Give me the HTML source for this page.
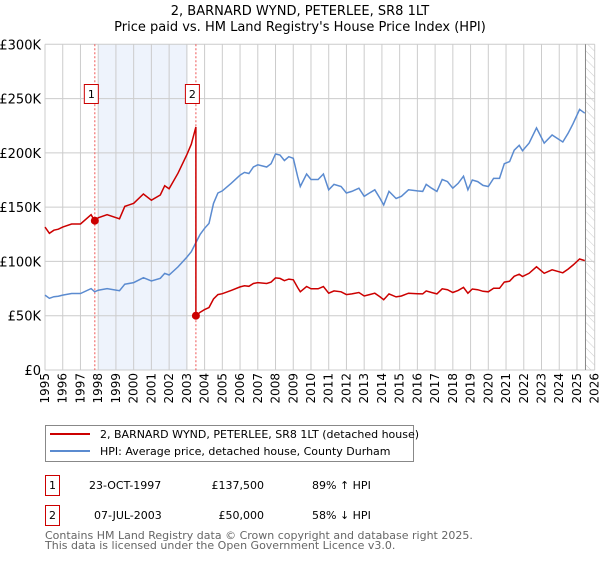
<!DOCTYPE html>
<html><head><meta charset="utf-8">
<style>
body{margin:0;background:#fff;}
svg text{font-family:"DejaVu Sans","Liberation Sans",sans-serif;}
</style></head>
<body>
<svg id="chart" width="600" height="560" viewBox="0 0 600 560" xmlns="http://www.w3.org/2000/svg">
<defs>
<pattern id="hatch" width="6" height="6" patternUnits="userSpaceOnUse" patternTransform="rotate(-45)">
<line x1="0" y1="0" x2="0" y2="6" stroke="#ccc" stroke-width="1"/>
</pattern>
</defs>
<text x="300" y="15" text-anchor="middle" font-size="13" fill="#000">2, BARNARD WYND, PETERLEE, SR8 1LT</text>
<text x="300" y="31" text-anchor="middle" font-size="13" fill="#000">Price paid vs. HM Land Registry's House Price Index (HPI)</text>
<g id="grid"></g>
<g id="plot"></g>
<g id="legend">
<rect x="45.5" y="425.5" width="368" height="36" fill="#fff" stroke="#888"/>
<line x1="50" y1="434" x2="90" y2="434" stroke="#cc0000" stroke-width="2"/>
<text x="100" y="438" font-size="11">2, BARNARD WYND, PETERLEE, SR8 1LT (detached house)</text>
<line x1="50" y1="451" x2="90" y2="451" stroke="#5b8bd0" stroke-width="2"/>
<text x="100" y="455" font-size="11">HPI: Average price, detached house, County Durham</text>
</g>
<g font-size="11">
<rect x="45.5" y="475.5" width="14" height="20" fill="#fff" stroke="#cc0000"/>
<text x="52.5" y="489" text-anchor="middle">1</text>
<text x="89" y="489">23-OCT-1997</text>
<text x="264" y="489" text-anchor="end">£137,500</text>
<text x="312" y="489">89% ↑ HPI</text>
<rect x="45.5" y="505.5" width="14" height="20" fill="#fff" stroke="#cc0000"/>
<text x="52.5" y="519" text-anchor="middle">2</text>
<text x="94" y="519">07-JUL-2003</text>
<text x="264" y="519" text-anchor="end">£50,000</text>
<text x="312" y="519">58% ↓ HPI</text>
</g>
<text x="45" y="539" font-size="11" fill="#666">Contains HM Land Registry data © Crown copyright and database right 2025.</text>
<text x="45" y="549" font-size="11" fill="#666">This data is licensed under the Open Government Licence v3.0.</text>
</svg>
<script>
const hpiYears=[1995.0,1995.25,1995.5,1995.75,1996.0,1996.5,1997.0,1997.6,1997.8,1998.0,1998.5,1999.2,1999.5,2000.0,2000.55,2001.0,2001.5,2001.75,2002.0,2002.5,2003.0,2003.25,2003.5,2003.75,2004.0,2004.25,2004.5,2004.75,2005.0,2005.5,2006.0,2006.25,2006.5,2006.75,2007.0,2007.5,2007.75,2008.0,2008.25,2008.5,2008.75,2009.0,2009.25,2009.4,2009.75,2010.0,2010.4,2010.7,2011.0,2011.3,2011.7,2012.0,2012.3,2012.7,2013.0,2013.3,2013.6,2013.9,2014.1,2014.4,2014.8,2015.1,2015.5,2016.0,2016.3,2016.5,2016.8,2017.1,2017.4,2017.7,2018.0,2018.3,2018.6,2018.85,2019.1,2019.4,2019.7,2020.0,2020.3,2020.63,2020.9,2021.2,2021.46,2021.74,2021.93,2022.3,2022.72,2023.15,2023.6,2024.2,2024.5,2024.78,2025.15,2025.44];
const hpiValues=[69,66,67.5,68,69,70.5,70.5,75,72,73.5,75,73,79,80.5,85,82,84.5,89,87.5,95,104,109,117,125,130.5,135,153.5,163,165,172,179.5,182,181,187,189,187,190,199,198,193,196.5,195,178,169,180.5,175.5,175.5,180.5,166,171,169,163,164.5,167.5,160,163,166,158,152,164.5,158,160,166,165,164.5,171,167.5,164.5,175.5,173.5,167.5,172,178.5,166,175,173.5,170,169,176.5,176.5,190,192,202.5,207,202,209,223,209,216.5,210,218,227,240,236.5];
const saleYears=[1997.81,2003.51];
const salePrices=[137500,50000];
const yTicks=[0,50000,100000,150000,200000,250000,300000];
const yTickLabels=["£0","£50K","£100K","£150K","£200K","£250K","£300K"];
const xTicks=[1995,1996,1997,1998,1999,2000,2001,2002,2003,2004,2005,2006,2007,2008,2009,2010,2011,2012,2013,2014,2015,2016,2017,2018,2019,2020,2021,2022,2023,2024,2025,2026];

const L=45,R=594.7,T=44.3,B=370;
const X=y=>L+(y-1995)/(2026-1995)*(R-L);
const Y=v=>B-v/300000*(B-T);
const NS="http://www.w3.org/2000/svg";
function mk(tag,attrs,parent){const e=document.createElementNS(NS,tag);for(const k in attrs)e.setAttribute(k,attrs[k]);parent.appendChild(e);return e;}
const grid=document.getElementById('grid'),plot=document.getElementById('plot');
function hpiAt(y){for(let i=0;i<hpiYears.length-1;i++){if(y>=hpiYears[i]&&y<=hpiYears[i+1]){const t=(y-hpiYears[i])/(hpiYears[i+1]-hpiYears[i]);return (hpiValues[i]+t*(hpiValues[i+1]-hpiValues[i]))*1000;}}return hpiValues[hpiValues.length-1]*1000;}

const sh=mk('rect',{x:X(1998.0),y:T,width:X(2003.04)-X(1998.0),height:B-T,fill:'#eef3fc'},grid);


const hx=X(2025.48);
const ht=mk('rect',{x:hx,y:T,width:R-hx,height:B-T,fill:'url(#hatch)'},grid);


xTicks.forEach((t,i)=>{
  const gl=mk('line',{x1:X(t),x2:X(t),y1:T,y2:B,stroke:'#ccc','stroke-width':1},grid);
  
  
  const tx=mk('text',{x:0,y:0,'font-size':12,'text-anchor':'end',transform:`translate(${X(t)+4},373) rotate(-90)`},grid);
  tx.textContent=t;
  
  
});
yTicks.forEach((t,i)=>{
  const gl=mk('line',{x1:L,x2:R,y1:Y(t),y2:Y(t),stroke:'#ccc','stroke-width':1},grid);
  
  
  const tx=mk('text',{x:L-4,y:Y(t)+5,'font-size':13,'text-anchor':'end'},grid);
  tx.textContent=yTickLabels[i];
  
  
});
const vl=mk('line',{x1:hx,x2:hx,y1:T,y2:B,stroke:'#888','stroke-width':1},grid);



saleYears.forEach((sy,i)=>{
  const dl=mk('line',{x1:X(sy),x2:X(sy),y1:T,y2:B,stroke:'#ee5555','stroke-width':1,'stroke-dasharray':'2,2'},plot);
  
  
  const bx=mk('rect',{x:X(sy)-10.5,y:84.5,width:14,height:19,fill:'#fff',stroke:'#cc0000'},plot);
  
  
  const bt=mk('text',{x:X(sy)-3.5,y:98,'font-size':11,'text-anchor':'middle'},plot);
  bt.textContent=String(i+1);
  
  
});

let d='';
hpiYears.forEach((y,i)=>{d+=(i?'L':'M')+X(y).toFixed(1)+','+Y(hpiValues[i]*1000).toFixed(1);});
const hl=mk('path',{d:d,fill:'none',stroke:'#5b8bd0','stroke-width':1.5},plot);



const r1=salePrices[0]/hpiAt(saleYears[0]);
const r2=salePrices[1]/hpiAt(saleYears[1]);
let pd='';
hpiYears.forEach((y,i)=>{ if(y<saleYears[1]) pd+=(pd?'L':'M')+X(y).toFixed(1)+','+Y(hpiValues[i]*1000*r1).toFixed(1);});
pd+='L'+X(saleYears[1]).toFixed(1)+','+Y(hpiAt(saleYears[1])*r1).toFixed(1);
pd+='L'+X(saleYears[1]).toFixed(1)+','+Y(salePrices[1]).toFixed(1);
hpiYears.forEach((y,i)=>{ if(y>saleYears[1]) pd+='L'+X(y).toFixed(1)+','+Y(hpiValues[i]*1000*r2).toFixed(1);});
const pl=mk('path',{d:pd,fill:'none',stroke:'#cc0000','stroke-width':1.5},plot);



saleYears.forEach((sy,i)=>{
  const c=mk('circle',{cx:X(sy),cy:Y(salePrices[i]),r:4,fill:'#cc0000'},plot);
  
  
});
</script>
</body></html>
